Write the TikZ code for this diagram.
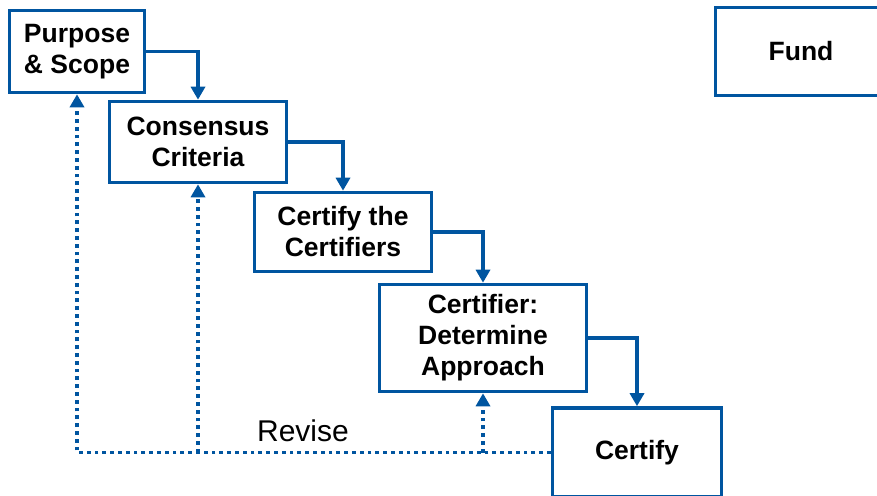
\documentclass[tikz,border=0pt]{standalone}
\usepackage{fontspec}
\setmainfont{Liberation Sans}
\usetikzlibrary{arrows.meta}
\definecolor{boxblue}{RGB}{0,85,160}
\begin{document}
\begin{tikzpicture}[x=1pt,y=-1pt,
  stagebox/.style={draw=boxblue,line width=3.6pt,fill=white,inner sep=0pt,
    align=center,font=\fontsize{26.5}{31}\selectfont\bfseries},
  flow/.style={draw=boxblue,line width=3.4pt,-{Triangle[width=14pt,length=13pt]}},
  revflow/.style={draw=boxblue,line width=3.8pt,dash pattern=on 3.8pt off 4pt,
    -{Triangle[width=14pt,length=13pt]}}]
\useasboundingbox (0,0) rectangle (877,495);
\node[stagebox,minimum width=135pt,minimum height=82pt] (ps) at (77,51.5) {Purpose\\\& Scope};
\node[stagebox,minimum width=177pt,minimum height=81pt] (cc) at (198,142) {Consensus\\Criteria};
\node[stagebox,minimum width=177pt,minimum height=79pt] (ctc) at (343,232) {Certify the\\Certifiers};
\node[stagebox,minimum width=207pt,minimum height=107pt] (da) at (483,338) {Certifier:\\Determine\\Approach};
\node[stagebox,minimum width=169pt,minimum height=89pt] (cf) at (637,452.5) {Certify};
\node[stagebox,minimum width=171pt,minimum height=88pt] (fund) at (801,51.5) {Fund};
\draw[flow] (ps.east) -| (cc.north);
\draw[flow] (cc.east) -| (ctc.north);
\draw[flow] (ctc.east) -| (da.north);
\draw[flow] (da.east) -| (cf.north);
\coordinate (j1) at (cc.south |- cf.west);
\coordinate (j2) at (da.south |- cf.west);
\draw[revflow] (cf.west) -| (ps.south);
\draw[revflow] (j1) -- (cc.south);
\draw[revflow] (j2) -- (da.south);
\node[font=\fontsize{30}{35}\selectfont,inner sep=0pt] (rev) at (303,431) {Revise};
\end{tikzpicture}
\end{document}
